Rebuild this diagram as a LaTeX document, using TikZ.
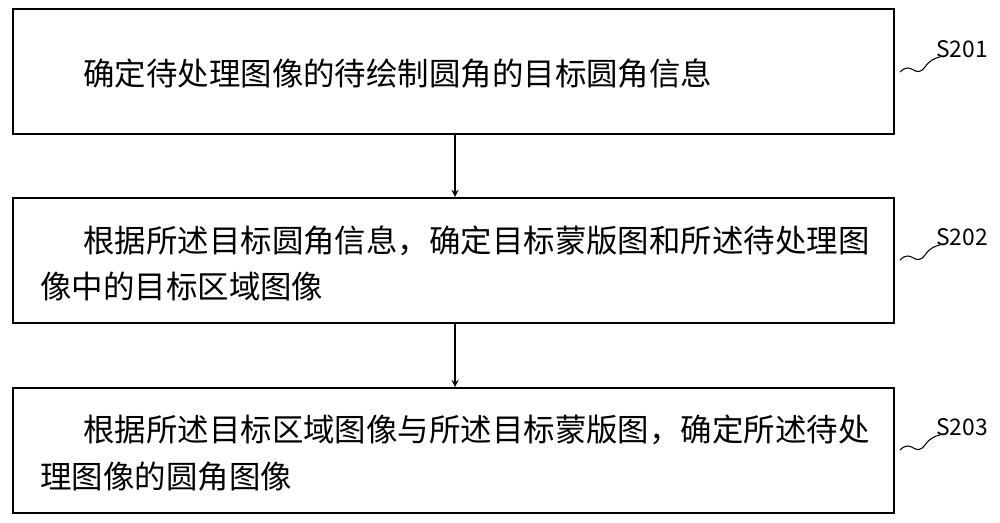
\documentclass[tikz,border=0pt]{standalone}
\usepackage{fontspec}
\setmainfont{Noto Sans CJK SC}
\begin{document}
\begin{tikzpicture}[x=0.02cm,y=-0.02cm,
  box/.style={draw,line width=0.9pt,minimum width=881*0.02cm,minimum height=125*0.02cm,anchor=north west,inner sep=0},
  txt/.style={anchor=north west,align=left,inner sep=0,font=\fontsize{17.9}{26.7}\selectfont},
  lab/.style={font=\fontsize{13}{15}\selectfont,anchor=center},
  arr/.style={->,>=stealth,line width=0.8pt}]
\useasboundingbox (0,0) rectangle (1000,523);
\node[box] (b1) at (12,8) {};
\node[box] (b2) at (12,197) {};
\node[box] (b3) at (12,387) {};
\node[txt] (t1) at (83,58) {确定待处理图像的待绘制圆角的目标圆角信息};
\node[txt] (t2) at (40,225) {\hspace{43\dimexpr0.02cm\relax}根据所述目标圆角信息，确定目标蒙版图和所述待处理图\\像中的目标区域图像};
\node[txt] (t3) at (40,415) {\hspace{43\dimexpr0.02cm\relax}根据所述目标区域图像与所述目标蒙版图，确定所述待处\\理图像的圆角图像};
\draw[arr] (455,133) -- (455,197);
\draw[arr] (455,323) -- (455,387);
\node[lab] (l1) at (962,49) {S201};
\node[lab] (l2) at (962,237) {S202};
\node[lab] (l3) at (962,427) {S203};
\foreach \y/\l in {72/l1,260/l2,450/l3}{
 \draw[line width=0.6pt] (900,\y) .. controls (912,\y-12) and (915,\y+8) .. (925,\y-5) .. controls (930,\y-12) and (935,\y-14) .. (940,\y-15);
}
\end{tikzpicture}
\end{document}
